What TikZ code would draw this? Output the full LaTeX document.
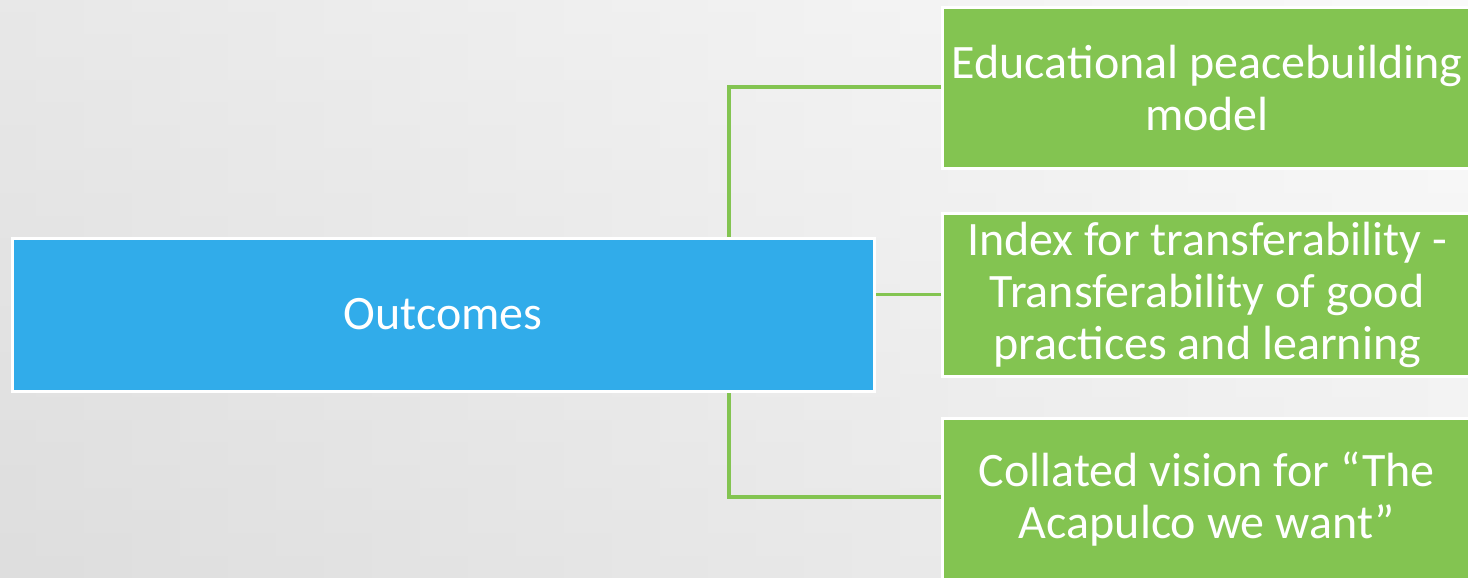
\documentclass[tikz,border=0pt]{standalone}
\usepackage{fontspec}
\setmainfont{Carlito}
\begin{document}
\begin{tikzpicture}[x=1pt,y=-1pt,
  box/.style={draw=white, line width=3pt, anchor=north west, inner sep=0pt, align=center, text=white},
  bluebox/.style={box, fill=blueC, font=\fontsize{48}{52}\selectfont},
  greenbox/.style={box, fill=greenC, font=\fontsize{48}{52}\selectfont},
  conn/.style={draw=greenC, line width=3.5pt}]
\definecolor{blueC}{HTML}{31ACEA}
\definecolor{greenC}{HTML}{83C451}
\useasboundingbox (0,0) rectangle (1468,578);
\clip (0,0) rectangle (1468,578);
\shade[left color=black!15, right color=black!3] (0,0) rectangle (1468,578);
\shade[top color=white, bottom color=black!10, opacity=0.4] (0,0) rectangle (1468,578);
\coordinate (vt) at (729,87);
\coordinate (vb) at (729,497);
\node[bluebox, minimum width=862pt, minimum height=153pt] (out) at (10.5,236.5) {Outcomes};
\node[greenbox, minimum width=530pt, minimum height=160pt] (g1) at (940.5,6.5) {Educational peacebuilding\\model};
\node[greenbox, minimum width=530pt, minimum height=163pt] (g2) at (940.5,211.5) {Index for transferability -\\Transferability of good\\practices and learning};
\node[greenbox, minimum width=530pt, minimum height=163pt] (g3) at (940.5,416.5) {Collated vision for ``The\\Acapulco we want''};
\draw[conn] (out.north -| vt) -- (vt) -- (g1.west |- vt);
\draw[conn] (out.south -| vb) -- (vb) -- (g3.west |- vb);
\draw[conn] (out.east |- g2.west) -- (g2.west);
\node[bluebox, minimum width=862pt, minimum height=153pt] at (10.5,236.5) {Outcomes};
\node[greenbox, minimum width=530pt, minimum height=160pt] at (940.5,6.5) {Educational peacebuilding\\model};
\node[greenbox, minimum width=530pt, minimum height=163pt] at (940.5,211.5) {Index for transferability -\\Transferability of good\\practices and learning};
\node[greenbox, minimum width=530pt, minimum height=163pt] at (940.5,416.5) {Collated vision for ``The\\Acapulco we want''};
\end{tikzpicture}
\end{document}
